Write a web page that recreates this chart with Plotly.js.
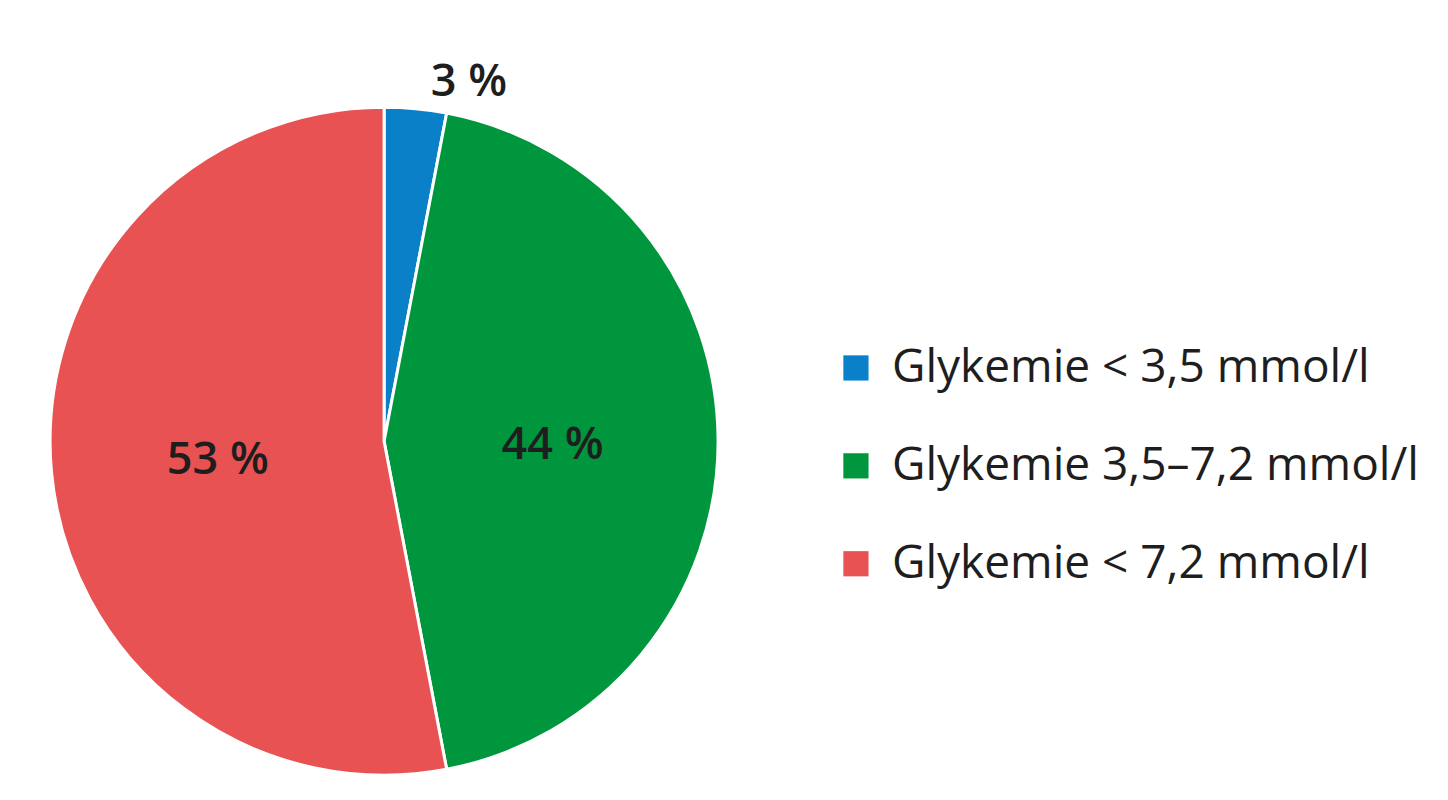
<!DOCTYPE html>
<html>
<head>
<meta charset="utf-8">
<script src="https://cdn.plot.ly/plotly-3.0.1.min.js"></script>
<style>
  html, body { margin: 0; padding: 0; background: #fff; }
  #piechart { width: 1448px; height: 800px; }
  /* bigger legend squares, like the original */
  #piechart path.legendpie { transform: translate(19px, -2px) scale(2.1); stroke-width: 0 !important; }
</style>
</head>
<body>
<div id="piechart"></div>
<script>
var labels = ['Glykemie < 3,5 mmol/l', 'Glykemie 3,5–7,2 mmol/l', 'Glykemie < 7,2 mmol/l'];
var values = [3, 44, 53];
var colors = ['#0A80C8', '#00963E', '#E85253'];   // blue, green, red
var positions = ['outside', 'inside', 'inside'];

// legend text drawn smaller than legend font so rows get the wide spacing of the original
var legendLabels = labels.map(function(l) {
  return '<span style="font-size:46px;baseline-shift:16px">' + l.replace('<', '&lt;') + '</span>';
});

var data = [{
  type: 'pie',
  labels: legendLabels,
  values: values,
  sort: false,
  direction: 'clockwise',
  rotation: 0,
  texttemplate: '%{value} %',
  textposition: positions,
  insidetextorientation: 'horizontal',
  textfont: {family: '"Open Sans", sans-serif', size: 45, color: '#1e1e1e', weight: 600},
  marker: {colors: colors, line: {color: '#ffffff', width: 3}},
  domain: {x: [0.0345, 0.496], y: [0.031, 0.866]},
  hoverinfo: 'skip'
}];

var layout = {
  width: 1448,
  height: 800,
  margin: {l: 0, r: 0, t: 0, b: 0},
  paper_bgcolor: '#ffffff',
  showlegend: true,
  legend: {
    x: 0.578, y: 0.415, xanchor: 'left', yanchor: 'middle',
    font: {family: '"Open Sans", sans-serif', size: 73, color: '#1e1e1e'},
    itemwidth: 45
  }
};

Plotly.newPlot('piechart', data, layout, {staticPlot: true});
</script>
</body>
</html>
